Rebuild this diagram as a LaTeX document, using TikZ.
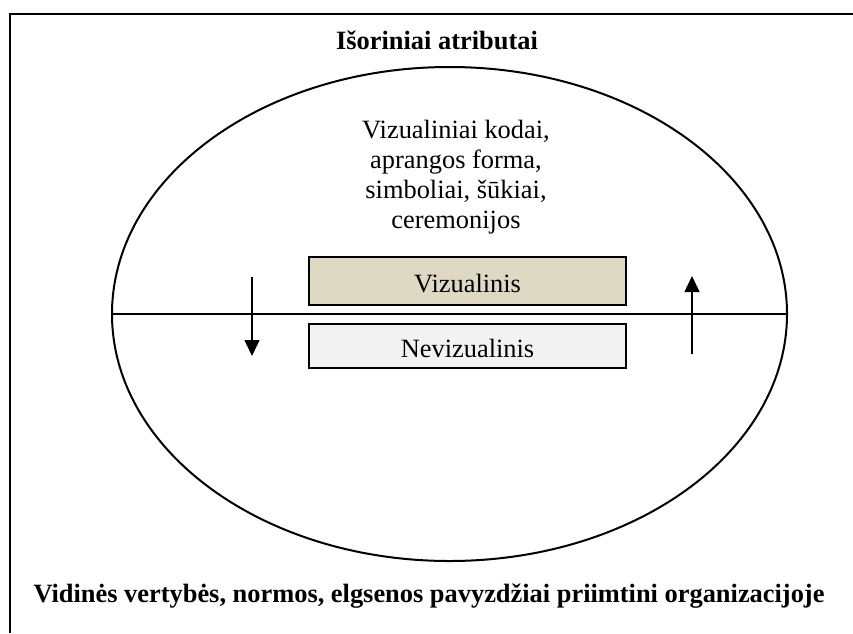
\documentclass[tikz,border=0pt]{standalone}
\usepackage{fontspec}
\setmainfont{Liberation Serif}
\usetikzlibrary{arrows.meta,shapes.geometric}
\definecolor{tanfill}{HTML}{DDD9C3}
\definecolor{lightfill}{HTML}{F2F2F2}
\begin{document}
\begin{tikzpicture}[x=1pt,y=-1pt,
  bigfont/.style={font=\fontsize{26.4}{30}\selectfont},
  boldtext/.style={font=\fontsize{26.4}{30}\selectfont\bfseries, inner sep=0pt},
  layerbox/.style={draw=black, line width=1.3pt, minimum width=317pt, inner sep=0pt,
    text height=22pt, text depth=0pt, font=\fontsize{26.4}{30}\selectfont},
  flowarrow/.style={line width=1.5pt, -{Triangle[width=15pt,length=16pt]}}
]
\useasboundingbox (0,0) rectangle (853,633);
\fill[white] (0,0) rectangle (853,633);
% frame (left and top only)
\draw[line width=2.2pt] (10,633) -- (10,14) -- (853,14);
% ellipse
\node[draw, ellipse, line width=2pt, minimum width=675pt, minimum height=494pt, inner sep=0pt] (ell) at (449.5,314) {};
\draw[line width=1.5pt] (ell.west) -- (ell.east);
% texts
\node[boldtext, anchor=base] (title) at (437,49) {Išoriniai atributai};
\node[boldtext, anchor=base] (bottom) at (429,602) {Vidinės vertybės, normos, elgsenos pavyzdžiai priimtini organizacijoje};
\node[bigfont, align=center, anchor=north, inner sep=0pt] (attrs) at (456,120)
  {Vizualiniai kodai,\\aprangos forma,\\simboliai, šūkiai,\\ceremonijos};
% boxes
\node[layerbox, fill=tanfill, minimum height=48pt] (viz) at (467.5,281) {Vizualinis};
\node[layerbox, fill=lightfill, minimum height=44pt] (neviz) at (467.5,346) {Nevizualinis};
% arrows
\coordinate (la) at (252,277);
\coordinate (lb) at (252,356);
\coordinate (ra) at (692,354);
\coordinate (rb) at (692,276);
\draw[flowarrow] (la) -- (lb);
\draw[flowarrow] (ra) -- (rb);
\end{tikzpicture}
\end{document}
